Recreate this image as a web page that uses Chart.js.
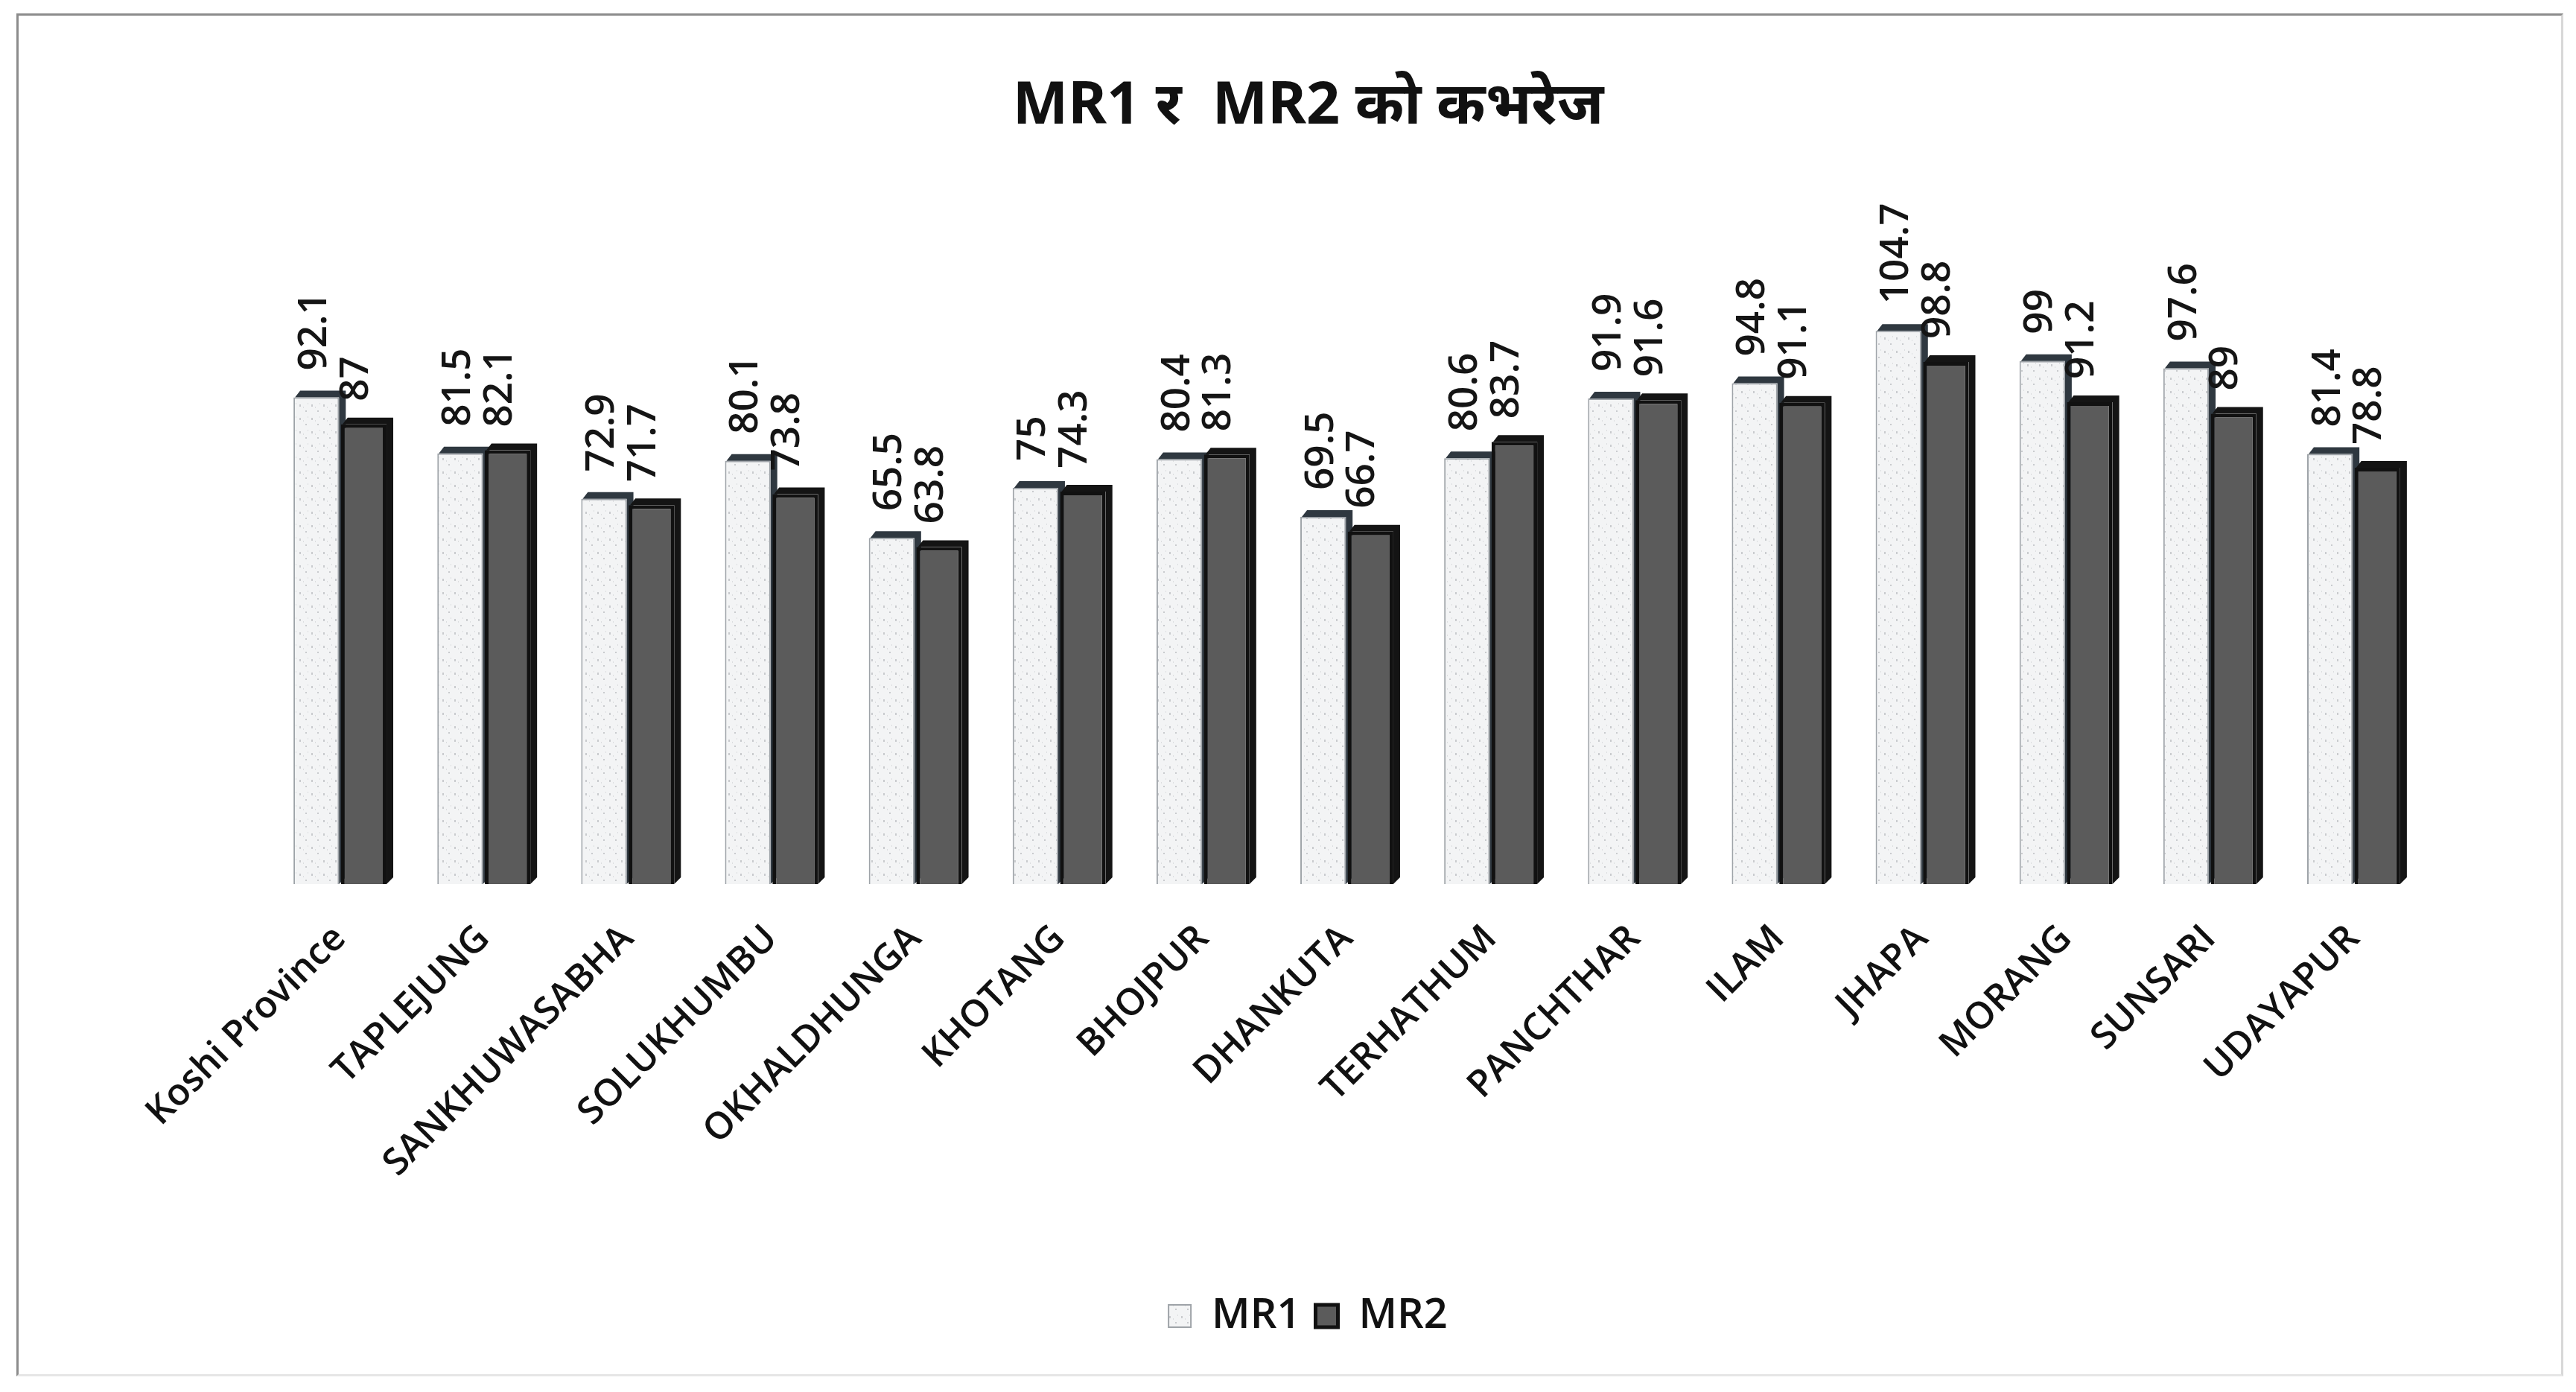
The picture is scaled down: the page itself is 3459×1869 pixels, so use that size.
<!DOCTYPE html>
<html>
<head>
<meta charset="utf-8">
<script src="https://cdn.jsdelivr.net/npm/chart.js@4.4.1/dist/chart.umd.min.js"></script>
<style>
  html, body { margin: 0; padding: 0; background: #ffffff; }
  #wrap { position: relative; width: 3459px; height: 1869px; overflow: hidden; background: #fff; }
  #frame { position: absolute; left: 22px; top: 18px; width: 3420px; height: 1830px; border: 3px solid #8c8c8c; border-right-color: #d8d8d8; border-bottom-color: #e6e6e6; box-sizing: border-box; }
  canvas { position: absolute; left: 0; top: 0; }
</style>
</head>
<body>
<div id="wrap">
  <div id="frame"></div>
  <canvas id="c" width="3459" height="1869"></canvas>
</div>
<script>
const titleText = 'MR1 र  MR2 को कभरेज';
const categories = ['Koshi Province', 'TAPLEJUNG', 'SANKHUWASABHA', 'SOLUKHUMBU', 'OKHALDHUNGA', 'KHOTANG', 'BHOJPUR', 'DHANKUTA', 'TERHATHUM', 'PANCHTHAR', 'ILAM', 'JHAPA', 'MORANG', 'SUNSARI', 'UDAYAPUR'];
const mr1 = [92.1, 81.5, 72.9, 80.1, 65.5, 75, 80.4, 69.5, 80.6, 91.9, 94.8, 104.7, 99, 97.6, 81.4];
const mr2 = [87, 82.1, 71.7, 73.8, 63.8, 74.3, 81.3, 66.7, 83.7, 91.6, 91.1, 98.8, 91.2, 89, 78.8];
const seriesNames = ['MR1', 'MR2'];

const FONT = '"Open Sans", Lato, sans-serif';

// speckled light pattern for MR1
function makePattern() {
  const p = document.createElement('canvas');
  p.width = 16; p.height = 18;
  const g = p.getContext('2d');
  g.fillStyle = '#f3f4f5';
  g.fillRect(0, 0, 16, 18);
  g.fillStyle = '#c9cbce';
  g.fillRect(2, 3, 2, 3);
  g.fillRect(10, 11, 2, 2);
  g.fillStyle = '#dcdee0';
  g.fillRect(7, 6, 1, 2);
  g.fillRect(13, 1, 1, 2);
  return document.getElementById('c').getContext('2d').createPattern(p, 'repeat');
}
const mr1Fill = makePattern();

const depthPlugin = {
  id: 'depth',
  beforeDatasetsDraw(chart) {
    const ctx = chart.ctx;
    const d = 9;
    chart.data.datasets.forEach((ds, i) => {
      const meta = chart.getDatasetMeta(i);
      meta.data.forEach(bar => {
        const half = bar.width / 2;
        const l = bar.x - half, r = bar.x + half, t = bar.y, b = bar.base;
        ctx.save();
        ctx.fillStyle = i === 0 ? '#2f3840' : '#141414';
        ctx.beginPath();
        ctx.moveTo(l + 2, t);
        ctx.lineTo(l + d, t - d);
        ctx.lineTo(r + d, t - d);
        ctx.lineTo(r + d, b - d);
        ctx.lineTo(r, b);
        ctx.lineTo(r, t);
        ctx.closePath();
        ctx.fill();
        ctx.restore();
      });
    });
  }
};

const labelPlugin = {
  id: 'valueLabels',
  afterDatasetsDraw(chart) {
    const ctx = chart.ctx;
    ctx.save();
    ctx.font = '600 53px ' + FONT;
    ctx.fillStyle = '#151515';
    ctx.textAlign = 'left';
    ctx.textBaseline = 'middle';
    chart.data.datasets.forEach((ds, i) => {
      const meta = chart.getDatasetMeta(i);
      meta.data.forEach((bar, j) => {
        const v = ds.data[j];
        ctx.save();
        ctx.translate(bar.x - (i === 0 ? 2 : 10), bar.y - (i === 0 ? 36 : 31));
        ctx.rotate(-Math.PI / 2);
        ctx.fillText(String(v), 0, 0);
        ctx.restore();
      });
    });
    ctx.restore();
  }
};

new Chart(document.getElementById('c'), {
  type: 'bar',
  data: {
    labels: categories,
    datasets: [
      { label: seriesNames[0], data: mr1, backgroundColor: mr1Fill, borderColor: '#9ea3a8', borderWidth: 2, categoryPercentage: 0.66, barPercentage: 0.96 },
      { label: seriesNames[1], data: mr2, backgroundColor: '#5b5b5b', borderColor: '#111111', borderWidth: 5, categoryPercentage: 0.66, barPercentage: 0.96 }
    ]
  },
  options: {
    responsive: false,
    animation: false,
    devicePixelRatio: 1,
    layout: { padding: { left: 54, right: 0, top: 0, bottom: 64 } },
    plugins: {
      title: {
        display: true,
        text: titleText,
        color: '#111',
        font: { family: '"Noto Sans", Lato, sans-serif', size: 79, weight: 'bold' },
        padding: { top: 96, bottom: 3 }
      },
      legend: {
        position: 'bottom',
        labels: {
          color: '#111',
          font: { family: FONT, size: 56, weight: '600' },
          boxWidth: 30, boxHeight: 30, padding: 20
        }
      },
      tooltip: { enabled: false }
    },
    scales: {
      x: {
        grid: { display: false },
        border: { display: false },
        ticks: {
          color: '#111',
          font: { family: FONT, size: 50, weight: '600' },
          minRotation: 45, maxRotation: 45, padding: 36, autoSkip: false
        },
        afterFit(s) { s.height = 532; }
      },
      y: {
        display: true, position: 'left', min: 0, max: 140,
        grid: { display: false }, border: { display: false }, ticks: { display: false },
        afterFit(s) { s.width = 306; }
      },
      y2: {
        display: true, position: 'right', min: 0, max: 140,
        grid: { display: false }, border: { display: false }, ticks: { display: false },
        afterFit(s) { s.width = 202; }
      }
    }
  },
  plugins: [depthPlugin, labelPlugin]
});
</script>
</body>
</html>
